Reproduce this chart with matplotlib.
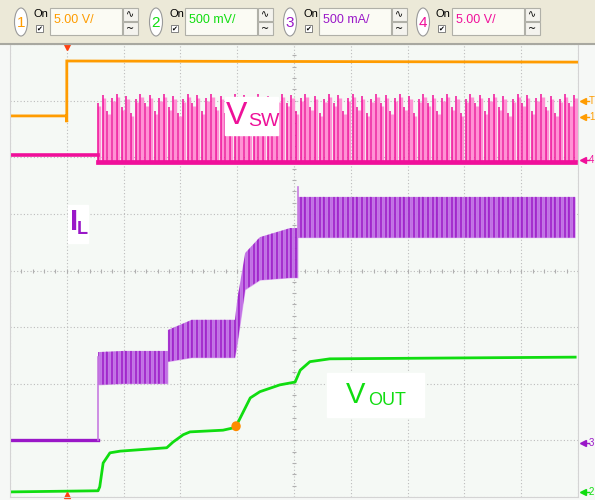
import numpy as np
import matplotlib.pyplot as plt
from matplotlib.patches import Rectangle, Ellipse

# scope screen in divisions: 10 across, 8 up
# ch1 (orange) enable step
ch1_t = [0.0, 0.99, 1.0, 1.0, 10.0]
ch1_v = [6.73, 6.73, 6.62, 7.70, 7.68]

# ch4 (magenta) switch node
vsw_base_t = [0.0, 1.55]
vsw_base_v = [6.04, 6.04]
vsw_low = 5.93
vsw_tops = [6.95, 7.10, 6.82, 7.05, 7.12, 6.88, 7.08, 6.78, 7.02, 7.12]
sw_start, sw_end, sw_period = 1.55, 9.95, 0.083

# ch3 (purple) inductor current
il_base_t = [0.0, 1.55]
il_base_v = [1.01, 1.01]
il_env_t = [1.55, 2.0, 2.78, 2.78, 3.2, 3.96, 4.0, 4.14, 4.40, 4.93, 5.07, 5.07, 9.95]
il_top = [2.56, 2.58, 2.58, 2.95, 3.13, 3.13, 3.48, 4.31, 4.59, 4.75, 4.75, 5.30, 5.30]
il_bot = [1.98, 2.00, 2.00, 2.39, 2.46, 2.46, 2.69, 3.66, 3.83, 3.87, 3.87, 4.58, 4.58]
il_spikes = [(1.55, 1.01, 2.47), (5.07, 4.6, 5.48)]

# ch2 (green) output voltage
vout_t = [0.0, 1.55, 1.58, 1.64, 1.76, 1.94, 2.76, 2.87, 3.05, 3.17, 3.75, 3.93, 3.98,
          4.23, 4.40, 4.75, 5.02, 5.11, 5.28, 5.63, 9.95]
vout_v = [0.09, 0.11, 0.18, 0.60, 0.78, 0.81, 0.87, 0.97, 1.10, 1.15, 1.18, 1.22, 1.25,
          1.75, 1.86, 1.98, 2.03, 2.24, 2.39, 2.44, 2.47]
dot_t, dot_v = 3.98, 1.25

# channel settings bar
ch_nums = ['1', '2', '3', '4']
ch_scales = ['5.00 V/', '500 mV/', '500 mA/', '5.00 V/']
ch_colors = ['#ff9c00', '#10dd10', '#9a18c8', '#f0109a']

orange, green, purple, magenta = ch_colors

fig = plt.figure(figsize=(5.95, 5.0), dpi=100)
fig.patch.set_facecolor('#f6f8f6')

ax = fig.add_axes([10 / 595, 3 / 500, 568 / 595, 453 / 500])
ax.set_facecolor('#f5f9f5')
ax.set_xlim(0, 10)
ax.set_ylim(0, 8)
ax.set_xticks(np.arange(11))
ax.set_yticks(np.arange(9))
ax.tick_params(length=0, labelbottom=False, labelleft=False)
ax.grid(True, ls=(0, (1, 2)), color='#bcbcbc', lw=0.8)
for s in ax.spines.values():
    s.set_color('#d4d4d4')
# minor ticks on centre lines
mt = np.arange(0, 10.01, 0.2)
ax.plot(mt, np.full_like(mt, 4.0), ls='none', marker='|', ms=3, color='#b0b0b0', mew=0.8)
mv = np.arange(0, 8.01, 0.2)
ax.plot(np.full_like(mv, 5.0), mv, ls='none', marker='_', ms=3, color='#b0b0b0', mew=0.8)

# ch1
ax.plot(ch1_t, ch1_v, color=orange, lw=2.0, solid_joinstyle='miter')

# ch4 switching
pulses = np.arange(sw_start, sw_end, sw_period)
tops = np.resize(vsw_tops, len(pulses))
ax.vlines(pulses + 0.025, vsw_low, tops - 0.05, color='#ff92d4', lw=2.4)
ax.vlines(pulses, vsw_low, tops, color=magenta, lw=1.1)
ax.plot(vsw_base_t, vsw_base_v, color=magenta, lw=2.6)
ax.plot([sw_start, sw_start], [vsw_base_v[-1], vsw_low], color=magenta, lw=1)
ax.plot([sw_start, sw_end], [vsw_low - 0.02, vsw_low - 0.02], color=magenta, lw=3.4)

# ch3 current ripple
band = ax.fill_between(il_env_t, il_bot, il_top, color='#dcaaf0', lw=0)
ripple = np.arange(sw_start, sw_end, sw_period)
rl = ax.vlines(ripple + 0.035, 0, 8, color='#c070e4', lw=2.0)
rd = ax.vlines(ripple, 0, 8, color=purple, lw=1.2)
clip = band.get_paths()[0]
rl.set_clip_path(clip, ax.transData)
rd.set_clip_path(clip, ax.transData)
ax.plot(il_base_t, il_base_v, color=purple, lw=2.4)
for t, a, b in il_spikes:
    ax.plot([t, t], [a, b], color='#c77ce0', lw=1.2)

# ch2
ax.plot(vout_t, vout_v, color=green, lw=2.0)
ax.add_patch(Ellipse((dot_t, dot_v), 0.14, 0.15, color='#ff8c00', zorder=5))

# trigger markers
ax.plot([1.0], [7.95], marker='v', color='#ff4010', ms=5, clip_on=False)
ax.plot([1.0], [0.03], marker='^', color='#ff4010', ms=5, clip_on=False)

# overlay in pixel coordinates
ui = fig.add_axes([0, 0, 1, 1])
ui.set_xlim(0, 595)
ui.set_ylim(500, 0)
ui.axis('off')
ui.patch.set_alpha(0)

ui.add_patch(Rectangle((0, 0), 595, 43, color='#ece9d8'))
ui.plot([0, 595], [43.5, 43.5], color='#a8a8a0', lw=1.5)
for i, cx in enumerate([21, 156, 290, 423]):
    ui.add_patch(Ellipse((cx, 22), 13, 28, facecolor='white', edgecolor='#9a9a9a', lw=0.8))
    ui.text(cx, 23, ch_nums[i], color=ch_colors[i], fontsize=11, ha='center', va='center',
            family='Liberation Sans')
    ui.text(cx + 13, 14, 'On', fontsize=8, ha='left', va='center', family='Liberation Sans')
    ui.add_patch(Rectangle((cx + 15, 25), 7, 7, facecolor='white', edgecolor='#707070', lw=0.6))
    ui.text(cx + 18.5, 28.5, '\u2714', fontsize=5, ha='center', va='center')
    ui.add_patch(Rectangle((cx + 29, 8), 72, 27, facecolor='#fbfbf4', edgecolor='#b0b0a8', lw=0.8))
    ui.text(cx + 33, 20, ch_scales[i], color=ch_colors[i], fontsize=9, ha='left', va='center',
            family='Liberation Sans')
    ui.add_patch(Rectangle((cx + 102, 8), 15, 13, facecolor='#f4f3ee', edgecolor='#b0b0a8', lw=0.8))
    ui.add_patch(Rectangle((cx + 102, 22), 15, 13, facecolor='#f4f3ee', edgecolor='#b0b0a8', lw=0.8))
    ui.text(cx + 109.5, 14.5, '\u223f', fontsize=7, ha='center', va='center')
    ui.text(cx + 109.5, 29, '~', fontsize=7, ha='center', va='center')

# right margin markers
marks = [(101, 'T', orange), (117, '1', orange), (160, '4', magenta),
         (443, '3', purple), (492, '2', green)]
for y, lab, c in marks:
    ui.plot([583], [y], marker='<', color=c, ms=4)
    ui.plot([584, 589], [y, y], color=c, lw=1)
    ui.text(589, y, lab, color=c, fontsize=7, ha='left', va='center', family='Liberation Sans')

# trace labels
ui.add_patch(Rectangle((225, 97), 53, 38, color='white', zorder=3))
ui.text(226, 124, 'V', color='#ee1199', fontsize=23, family='Liberation Sans', va='baseline', zorder=4)
ui.text(248, 126.5, 'SW', color='#ee1199', fontsize=14, family='Liberation Sans', va='baseline', zorder=4)

ui.add_patch(Rectangle((68, 205), 20, 38, color='white', zorder=3))
ui.text(69.5, 230, 'I', color=purple, fontsize=21, family='Liberation Sans', va='baseline',
        fontweight='bold', zorder=4)
ui.text(77, 234, 'L', color=purple, fontsize=13, family='Liberation Sans', va='baseline',
        fontweight='bold', zorder=4)

ui.add_patch(Rectangle((327, 373), 97, 44, color='white', zorder=3))
ui.text(346, 403, 'V', color=green, fontsize=21, family='Liberation Sans', va='baseline', zorder=4)
ui.text(368, 405, 'OUT', color=green, fontsize=13, family='Liberation Sans', va='baseline', zorder=4)

fig.savefig('out.png', dpi=100)
